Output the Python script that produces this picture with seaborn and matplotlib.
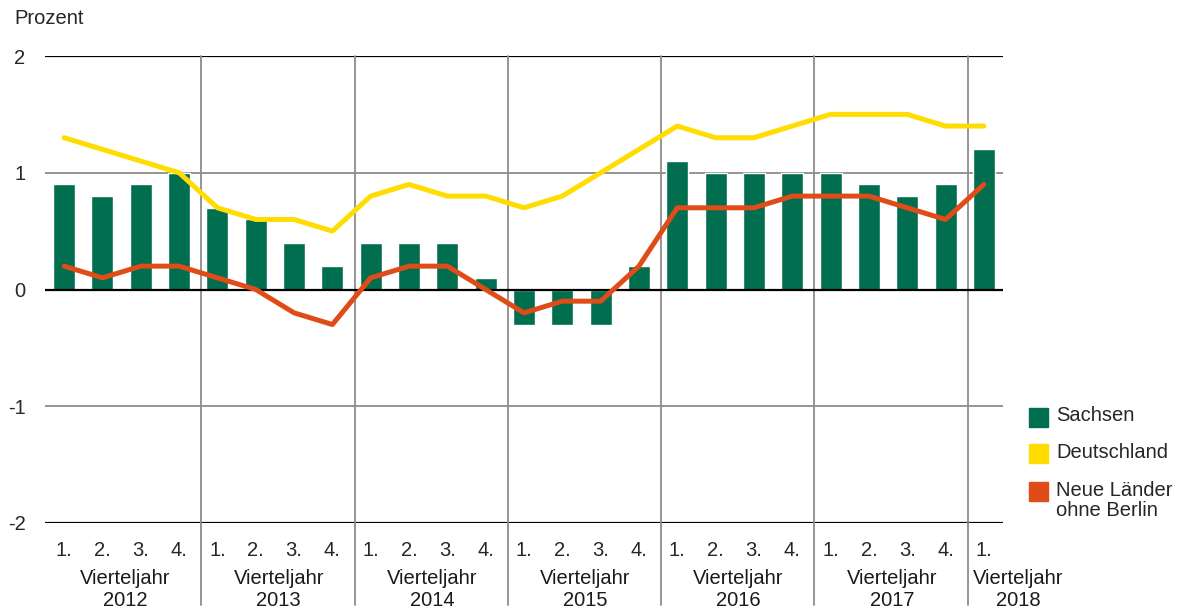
import matplotlib.pyplot as plt
import matplotlib.patches as mpatches
import numpy as np
import pandas as pd
import seaborn as sns

# Daten: Veraenderung gegenueber Vorjahresquartal in Prozent
years = ["2012", "2013", "2014", "2015", "2016", "2017", "2018"]
quarters = ["1.", "2.", "3.", "4."] * 6 + ["1."]
sachsen = [0.9, 0.8, 0.9, 1.0, 0.7, 0.6, 0.4, 0.2, 0.4, 0.4, 0.4, 0.1,
           -0.3, -0.3, -0.3, 0.2, 1.1, 1.0, 1.0, 1.0, 1.0, 0.9, 0.8, 0.9, 1.2]
deutschland = [1.3, 1.2, 1.1, 1.0, 0.7, 0.6, 0.6, 0.5, 0.8, 0.9, 0.8, 0.8,
               0.7, 0.8, 1.0, 1.2, 1.4, 1.3, 1.3, 1.4, 1.5, 1.5, 1.5, 1.4, 1.4]
neue_laender = [0.2, 0.1, 0.2, 0.2, 0.1, 0.0, -0.2, -0.3, 0.1, 0.2, 0.2, 0.0,
                -0.2, -0.1, -0.1, 0.2, 0.7, 0.7, 0.7, 0.8, 0.8, 0.8, 0.7, 0.6, 0.9]
series_names = ["Sachsen", "Deutschland", "Neue Länder\nohne Berlin"]

GREEN = "#006e4f"
YELLOW = "#ffdd00"
RED = "#e04c17"
GRAY = "#8c8c8c"
FS = 14.5


def main() -> None:
    sns.set_theme(style="white")
    plt.rcParams["font.family"] = ["Liberation Sans", "DejaVu Sans"]

    df = pd.DataFrame({
        "pos": np.arange(len(quarters)),
        "Sachsen": sachsen,
        "Deutschland": deutschland,
        "Neue": neue_laender,
    })

    W, H = 1184, 616
    fig = plt.figure(figsize=(W / 100, H / 100), dpi=100)
    ax = fig.add_axes([45 / W, 93 / H, 958 / W, 467 / H])

    # Gitterlinien
    for y in [2, -2]:
        ax.axhline(y, color="black", lw=1.6, zorder=1)
    ax.axhline(0, color="black", lw=1.6, zorder=2.5)
    for y in [1, -1]:
        ax.axhline(y, color=GRAY, lw=1.3, zorder=1)

    # Trennlinien zwischen den Jahren (bis unter die Beschriftung)
    for i in range(1, len(years)):
        xs = 4 * i - 0.42
        ax.plot([xs, xs], [1, -0.175], transform=ax.get_xaxis_transform(),
                color=GRAY, lw=1.3, clip_on=False, zorder=1)

    sns.barplot(data=df, x="pos", y="Sachsen", color=GREEN, saturation=1,
                width=0.575, ax=ax, zorder=2)
    sns.lineplot(data=df, x="pos", y="Deutschland", color=YELLOW, lw=3.6,
                 solid_capstyle="round", ax=ax, zorder=3)
    sns.lineplot(data=df, x="pos", y="Neue", color=RED, lw=3.6,
                 solid_capstyle="round", ax=ax, zorder=4)

    ax.set_xlim(-0.5, len(quarters) - 0.5)
    ax.set_ylim(-2, 2)
    ax.set_yticks([-2, -1, 0, 1, 2])
    ax.set_yticklabels(["-2", "-1", "0", "1", "2"], fontsize=FS)
    ax.set_xticks(np.arange(len(quarters)))
    ax.set_xticklabels(quarters, fontsize=FS)
    ax.tick_params(length=0, axis="y", pad=14)
    ax.tick_params(length=0, axis="x", pad=13)
    ax.set_xlabel("")
    ax.set_ylabel("")
    for s in ax.spines.values():
        s.set_visible(False)

    # Jahresbeschriftung
    for i, yr in enumerate(years):
        if i < len(years) - 1:
            ax.text(4 * i + 1.6, -0.098, "Vierteljahr\n" + yr, ha="center", va="top",
                    transform=ax.get_xaxis_transform(), fontsize=FS,
                    linespacing=1.2, color="#1a1a1a")
        else:
            ax.text(4 * i - 0.28, -0.098, "Vierteljahr\n" + yr, ha="left", va="top",
                    multialignment="center", transform=ax.get_xaxis_transform(),
                    fontsize=FS, linespacing=1.2, color="#1a1a1a")

    fig.text(14 / W, 1 - 18.5 / H, "Prozent", ha="left", va="center", fontsize=FS)

    # Legende
    colors = [GREEN, YELLOW, RED]
    ys = [417, 453.5, 491.5]
    for name, c, y in zip(series_names, colors, ys):
        fig.patches.append(mpatches.Rectangle((1029 / W, 1 - (y + 9.5) / H), 19 / W, 19 / H,
                                              transform=fig.transFigure, color=c, figure=fig))
        fig.text(1056 / W, 1 - (y - 11) / H, name, ha="left", va="top", fontsize=FS,
                 linespacing=1.1)

    fig.savefig("out.png", dpi=100)
    plt.close(fig)


if __name__ == "__main__":
    main()
